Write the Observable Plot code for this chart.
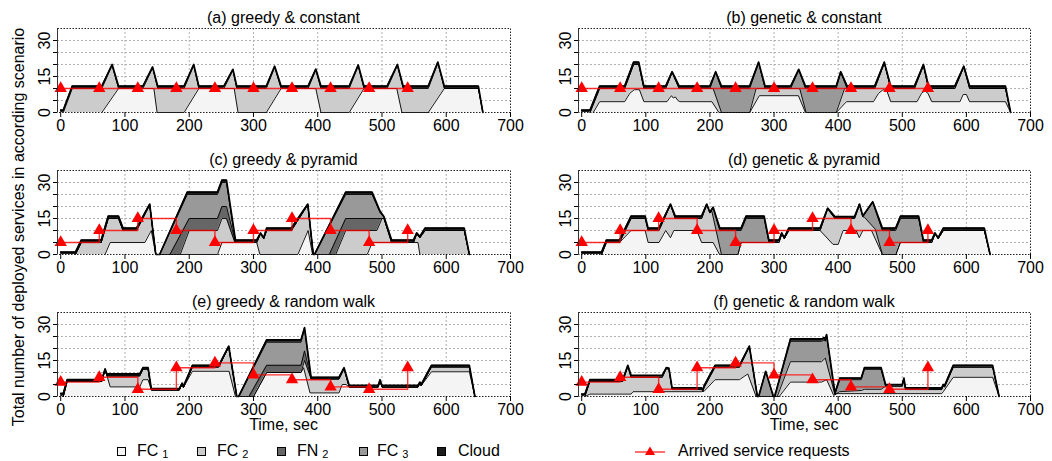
<!DOCTYPE html>
<html><head><meta charset="utf-8">
<script src="https://cdn.jsdelivr.net/npm/d3@7"></script>
<script src="https://cdn.jsdelivr.net/npm/@observablehq/plot@0.6"></script>
<style>
body{margin:0;background:#fff;font-family:"Liberation Sans",Arial,sans-serif;}
#root{position:relative;width:1052px;height:461px;overflow:hidden;background:#fff;}
.t{position:absolute;font-size:16px;line-height:18px;color:#000;white-space:nowrap;}
.pn{position:absolute;}
.sq{position:absolute;width:7px;height:7px;border:1px solid #000;}
sub{font-size:11px;line-height:11px;vertical-align:-2px;margin-left:4px;}
</style></head><body><div id="root"></div>
<script>
// arrival times of service requests and their sizes per scenario
const arrivalTimes = [0,60,120,180,240,300,360,420,480,540];
const reqConstant = [10,10,10,10,10,10,10,10,10,10];
const reqPyramid  = [5,10,15,10,5,10,15,10,5,10];
const reqRandom   = [6,8,3,12,14,9,7,4,3,12];

// each array: upper edge [time, services] of that layer in the stack (FC1 < FC2 < FN2 < FC3 < Cloud)
// (a) greedy & constant
const aCloud = [[0,1],[4,1],[18,11],[64,11],[80,20],[90,11],[128,11],[143,19],[151,11],[192,11],[207,20],[215,11],[254,11],[268,18],[274,11],[320,11],[333,19.3],[343,11],[385,11],[397,18.1],[405,11],[449,11],[463,19.8],[472,11],[508,11],[524,20],[533,11],[572,11],[587,21],[597,11],[650,11],[657,0]];
const aFC2 = [[4,0],[18,10],[64,10],[80,19.6],[90,10],[128,10],[143,18.6],[151,10],[192,10],[207,19.6],[215,10],[254,10],[268,17.6],[274,10],[320,10],[333,18.9],[343,10],[385,10],[397,17.7],[405,10],[449,10],[463,19.4],[472,10],[508,10],[524,19.6],[533,10],[572,10],[587,20.6],[597,10],[650,10],[657,0]];
const aFC1 = [[64,0],[90,10],[145,10],[150,0],[192,0],[215,10],[270,10],[276,0],[320,0],[343,10],[397,10],[405,0],[449,0],[472,10],[523,10],[531,0],[572,0],[597,10],[650,10],[657,0]];

// (b) genetic & constant
const bCloud = [[0,1],[13,1],[28,11],[67,11],[81,21],[89,21],[97,11],[131,11],[141,17],[152,11],[200,11],[209,17],[218,11],[262,11],[276,21],[286,11],[326,11],[338.5,18],[349,11],[397,11],[404,17],[414,11],[457,11],[472,21],[482,11],[519,11],[533,20],[541,11],[582,11],[596,19.3],[605,11],[661,11],[669,0]];
const bFC3 = [[13,0],[28,10],[67,10],[81,20],[89,20],[97,10],[131,10],[141,16.7],[152,10],[200,10],[209,16.7],[218,10],[262,10],[276,20.6],[286,10],[326,10],[338.5,17.7],[349,10],[397,10],[404,16.7],[414,10],[457,10],[472,20.6],[482,10],[519,10],[533,19.6],[541,10],[582,10],[596,19],[605,10],[661,10],[669,0]];
const bFC2 = [[13,0],[28,10],[67,10],[81,20],[89,20],[97,10],[131,10],[141,16.7],[152,10],[205,10],[218,0],[262,0],[272,10],[340,10],[350,0],[397,0],[410,10],[457,10],[472,20.6],[482,10],[519,10],[533,19.6],[541,10],[582,10],[596,19],[605,10],[661,10],[669,0]];
const bFC1 = [[18,0],[28,4.5],[67,4.5],[75,8],[82,9.5],[90,9.5],[97,4.5],[133,4.5],[137,6],[140,7],[143,6],[146,6.5],[150,5],[153,4.5],[203,4.5],[214,0],[262,0],[277,7],[338,7],[349,0],[397,0],[413,4.5],[455,4.5],[463,8],[470,9.5],[476,9],[482,4.5],[523,4.5],[530,8],[535,9],[540,8],[546,4.5],[590,4.5],[595,7.5],[600,7.5],[605,4.5],[661,4.5],[669,0]];

// (c) greedy & pyramid
const cCloud = [[0,1],[23,1],[32,6],[63,6],[74,16],[90,16],[97,11],[118,11],[138.5,21],[148,0],[154,0],[197,26],[244,26],[251,31],[258,31],[272,6],[305,6],[311,9],[316,7],[320.5,11],[359,11],[384.6,21],[393,0],[395,0],[443.6,26],[484.6,26],[497,18],[503,15.8],[515,6],[549,6],[554,9],[559,7.5],[567,11],[628,11],[636,0]];
const cFC3 = [[23,0],[32,5],[63,5],[74,15],[90,15],[97,10],[118,10],[138.5,20.7],[148,0],[154,0],[197,25],[244,25],[251,30],[258,30],[272,5],[305,5],[311,8.6],[316,6.6],[320.5,10],[359,10],[384.6,20.7],[393,0],[395,0],[443.6,25],[484.6,25],[497,17.5],[503,15.5],[515,5],[549,5],[554,8.6],[559,7],[567,10],[628,10],[636,0]];
const cFN2 = [[23,0],[32,5],[63,5],[74,15],[90,15],[97,10],[118,10],[138.5,20.7],[148,0],[170,0],[200,15],[244,15],[251,20],[258,20],[272,5],[305,5],[311,8.6],[316,6.6],[320.5,10],[359,10],[384.6,20.7],[393,0],[418,0],[443.6,15],[492,15],[503,15],[515,5],[549,5],[554,8.6],[559,7],[567,10],[628,10],[636,0]];
const cFC2 = [[23,0],[32,5],[63,5],[74,15],[90,15],[97,10],[118,10],[138.5,20.7],[148,0],[186,0],[200,10],[244,10],[251,15],[258,15],[271,5],[305,5],[311,8.6],[316,6.6],[320.5,10],[359,10],[384.6,20.7],[393,0],[428,0],[443.6,10],[492,10],[500,15],[503,15],[515,5],[549,5],[554,8.6],[559,7],[567,10],[628,10],[636,0]];
const cFC1 = [[69,0],[77,5],[131,5],[141,10],[148,0],[244,0],[251,5],[305,5],[310,0],[369,0],[385,10],[392,0],[477,0],[485,5],[556,5],[559,0]];

// (d) genetic & pyramid
const dCloud = [[0,1],[31,1],[38.5,6],[59,6],[77,16],[99,16],[103.6,11],[120.5,11],[138.5,21],[146,16],[187,16],[195,21],[200,17.6],[205,19.7],[215.4,11],[248.7,11],[256.4,16],[284.6,16],[292,6],[307.7,6],[312,9],[316,7],[323,11],[371.8,11],[383.6,19.3],[395,15.8],[425.6,15.8],[433.3,21],[438.5,16],[454,22],[469,11],[489.7,11],[497.4,16],[525.6,16],[533,6],[546,6],[551,9],[556,7],[564,11],[628,11],[637,0]];
const dFC3 = [[31,0],[38.5,5],[59,5],[77,15],[99,15],[103.6,10],[120.5,10],[138.5,20.7],[146,15],[187,15],[195,20.7],[200,17.3],[205,19.4],[215.4,10],[248.7,10],[256.4,15],[284.6,15],[292,5],[307.7,5],[312,8.6],[316,6.6],[323,10],[371.8,10],[383.6,19],[395,15],[425.6,15],[433.3,20.7],[438.5,15.7],[454,21.7],[469,10],[489.7,10],[497.4,15],[525.6,15],[533,5],[546,5],[551,8.6],[556,6.6],[564,10],[628,10],[637,0]];
const dFC2 = [[31,0],[38.5,5],[59,5],[77,15],[99,15],[103.6,10],[120.5,10],[138.5,20.7],[146,15],[187,15],[195,20.7],[200,17.3],[203,18],[218,0],[243.6,0],[248.7,5],[307.7,5],[312,8.6],[316,6.6],[323,10],[371.8,10],[383.6,19],[395,15],[425.6,15],[433.3,20.7],[438.5,15.7],[441,15.5],[458,10.5],[469,0],[490,0],[497,5],[546,5],[551,8.6],[556,6.6],[564,10],[628,10],[637,0]];
const dFC1 = [[31,0],[38.5,5],[59,5],[77,10],[99,10],[103.6,5],[120.5,5],[131,10],[138.5,7],[143.6,10],[179.5,10],[187,5],[205,5],[215,0],[243.6,0],[248.7,5],[307.7,5],[312,8.6],[316,6.6],[323,10],[371.8,10],[392,4.2],[400,4.2],[407.7,10],[428,10],[433,7],[438.5,10],[452,10],[469,0],[490,0],[497,5],[546,5],[551,8.6],[556,6.6],[564,10],[628,10],[637,0]];

// (e) greedy & random walk
const eCloud = [[0,1.3],[4,1.3],[10,7],[64,7],[69,11.5],[72,9.4],[123,9.4],[128,12],[136,12],[141,3.3],[184.6,3.3],[189,5.6],[191,4.2],[205,13],[246,13],[261.5,21],[274,0],[277,0],[320.5,23.6],[374,23.6],[379.5,28.7],[389.7,8],[433,8],[441,12],[449,4.6],[494,4.6],[497,7],[500,4.6],[556,4.6],[559,6],[561,5],[577,13],[636,13],[644.6,0]];
const eFC3 = [[4,0],[10,6.3],[64,6.3],[69,11.2],[72,8.6],[123,8.6],[128,11.4],[136,11.4],[141,2.7],[184.6,2.7],[189,5.3],[191,3.8],[205,12.3],[246,12.3],[261.5,20.7],[274,0],[277,0],[320.5,22.6],[374,22.6],[379.5,28.2],[389.7,7.3],[433,7.3],[441,11.6],[449,3.9],[494,3.9],[497,6.6],[500,3.9],[556,3.9],[559,5.6],[561,4.5],[577,12.3],[636,12.3],[644.6,0]];
const eFN2 = [[4,0],[10,6.3],[64,6.3],[69,11.2],[72,8.6],[123,8.6],[128,11.4],[136,11.4],[141,2.7],[184.6,2.7],[189,5.3],[191,3.8],[205,12.3],[246,12.3],[261.5,20.7],[274,0],[293,0],[320.5,13],[374,13],[379.5,19],[389.7,7.3],[433,7.3],[441,11.6],[449,3.9],[494,3.9],[497,6.6],[500,3.9],[556,3.9],[559,5.6],[561,4.5],[577,12.3],[636,12.3],[644.6,0]];
const eFC2 = [[4,0],[10,6.3],[64,6.3],[69,11.2],[72,8.6],[123,8.6],[128,11.4],[136,11.4],[141,2.7],[184.6,2.7],[189,5.3],[191,3.8],[205,12.3],[246,12.3],[261.5,20.7],[274,0],[300,0],[320.5,10],[374,10],[379.5,15],[389.7,7.3],[433,7.3],[441,11.6],[449,3.9],[494,3.9],[497,6.6],[500,3.9],[556,3.9],[559,5.6],[561,4.5],[577,12.3],[636,12.3],[644.6,0]];
const eFC1 = [[4,0],[10,6.3],[64,6.3],[69,11.2],[72,8.6],[77,4],[123,4],[128,7],[136,7],[141,2.7],[184.6,2.7],[189,5.3],[191,3.8],[205,10.5],[262,10.5],[272,0],[300,0],[320.5,10],[374,10],[378,12],[388,1.5],[433,1.5],[438,5],[444,5],[449,3.9],[494,3.9],[497,6.6],[500,3.9],[556,3.9],[559,5.6],[561,4.5],[577,10.3],[636,10.3],[644.6,0]];

// (f) genetic & random walk
const fCloud = [[0,1],[5,1],[12.8,7],[64,7],[72,13],[77,8.8],[125.6,8.8],[132,12],[136,11.8],[141,3.6],[187,3.6],[189,2.8],[191,4.5],[208,13],[246,13],[261.5,21],[274,0],[276,0],[287,10.5],[299,0],[301,0],[325.6,24],[374,24],[378,24.5],[380,24],[382,25.8],[395,1.5],[402.6,7.7],[436,7.7],[441,12],[467,12],[474,5],[500,5],[502.6,7.7],[505,3.6],[561.5,3.6],[564,5],[566,4.5],[579.5,13],[641,13],[651,0]];
const fFC3 = [[5,0],[12.8,6.3],[64,6.3],[72,12.6],[77,8],[125.6,8],[132,11.6],[136,11.4],[141,2.9],[187,2.9],[189,2.2],[191,3.8],[208,12.2],[246,12.2],[261.5,20.7],[274,0],[276,0],[287,10.3],[299,0],[301,0],[325.6,23],[374,23],[378,23.5],[380,23],[382,25.3],[395,0.8],[402.6,7],[436,7],[441,11.3],[467,11.3],[474,4.3],[500,4.3],[502.6,7.3],[505,2.9],[561.5,2.9],[564,4.5],[566,3.9],[579.5,12.2],[641,12.2],[651,0]];
const fFC2 = [[5,0],[12.8,6.3],[64,6.3],[72,12.6],[77,8],[125.6,8],[132,11.6],[136,11.4],[141,2.9],[187,2.9],[189,2.2],[191,3.8],[208,12.2],[246,12.2],[261.5,20.7],[274,0],[305,0],[325.6,14.5],[374,14.5],[380,16],[395,0.8],[402,2],[436,2.5],[441,3],[467,3],[474,4.3],[500,4.3],[502.6,7.3],[505,2.9],[561.5,2.9],[564,4.5],[566,3.9],[579.5,12.2],[641,12.2],[651,0]];
const fFC1 = [[5,0],[12.8,1],[77,1],[80,2],[187,2],[191,2.2],[208,7],[246,7],[259,9.4],[272,0],[308,0],[325.6,6],[374,6],[382,7],[393,0.5],[398,1.2],[561.5,1.2],[564,2],[579.5,8],[641,8],[651,0]];

const xTicks = [0,100,200,300,400,500,600,700];
const yTickLabels = [0,15,30];

const panels = [
  {title:"(a) greedy &amp; constant", req:reqConstant, col:0, row:0, layers:{Cloud:aCloud, FC2:aFC2, FC1:aFC1}},
  {title:"(b) genetic &amp; constant", req:reqConstant, col:1, row:0, layers:{Cloud:bCloud, FC3:bFC3, FC2:bFC2, FC1:bFC1}},
  {title:"(c) greedy &amp; pyramid", req:reqPyramid, col:0, row:1, layers:{Cloud:cCloud, FC3:cFC3, FN2:cFN2, FC2:cFC2, FC1:cFC1}},
  {title:"(d) genetic &amp; pyramid", req:reqPyramid, col:1, row:1, layers:{Cloud:dCloud, FC3:dFC3, FC2:dFC2, FC1:dFC1}},
  {title:"(e) greedy &amp; random walk", req:reqRandom, col:0, row:2, layers:{Cloud:eCloud, FC3:eFC3, FN2:eFN2, FC2:eFC2, FC1:eFC1}},
  {title:"(f) genetic &amp; random walk", req:reqRandom, col:1, row:2, layers:{Cloud:fCloud, FC3:fFC3, FC2:fFC2, FC1:fFC1}}
];

const COLORS = {Cloud:"#1c1c1c", FC3:"#999999", FN2:"#666666", FC2:"#cccccc", FC1:"#f4f4f4"};
const ORDER = ["Cloud","FC3","FN2","FC2","FC1"];
const root = document.getElementById("root");
const FONT = "Liberation Sans, Arial, sans-serif";
const rowTop = [28,170,312];

function addText(txt, left, top, extra) {
  const d = document.createElement("div");
  d.className = "t"; d.innerHTML = txt;
  d.style.left = left + "px"; d.style.top = top + "px";
  if (extra) Object.assign(d.style, extra);
  root.appendChild(d); return d;
}

for (const p of panels) {
  const marks = [
    Plot.gridX([100,200,300,400,500,600], {stroke:"#b0b0b0", strokeOpacity:1, strokeDasharray:"2,2"}),
    Plot.gridY([5,10,15,20,25,30], {stroke:"#b0b0b0", strokeOpacity:1, strokeDasharray:"2,2"})
  ];
  for (const k of ORDER) {
    const d = p.layers[k]; if (!d) continue;
    marks.push(Plot.areaY(d, {x: e => e[0], y1: 0, y2: e => e[1], fill: COLORS[k]}));
  }
  for (const k of ORDER) {
    const d = p.layers[k]; if (!d) continue;
    marks.push(Plot.line(d, {x: e => e[0], y: e => e[1], stroke:"#000", strokeWidth: k === "Cloud" ? 1.7 : 0.9}));
  }
  const reqData = arrivalTimes.map((t,i) => [t, p.req[i]]);
  marks.push(Plot.line(reqData, {x: e => e[0], y: e => e[1], curve:"step-after", stroke:"#ff0000", strokeWidth:1.4, strokeOpacity:0.8}));
  marks.push(Plot.dot(reqData, {x: e => e[0], y: e => e[1], symbol:"triangle", r:4.6, fill:"#ff0000"}));
  marks.push(Plot.frame({stroke:"#222", strokeDasharray:"1.5,1.5"}));
  marks.push(Plot.ruleX([-5], {stroke:"#333", strokeWidth:1}));
  marks.push(Plot.axisX({ticks: xTicks, tickSize:5, tickPadding:2, fontSize:16, tickFormat: d => String(d)}));
  marks.push(Plot.axisY({ticks:[0,5,10,15,20,25,30], tickSize:4, tickFormat: () => ""}));
  marks.push(Plot.text(yTickLabels, {x: -5, y: d => d, text: d => String(d), rotate:-90, dx:-13, fontSize:16, textAnchor:"middle"}));

  const svg = Plot.plot({
    width: 520, height: 119,
    marginTop: 5, marginBottom: 30, marginLeft: 57, marginRight: p.col === 0 ? 10 : 11,
    x: {domain: [-5, 700]},
    y: {domain: [0, 35]},
    style: {fontFamily: FONT, fontSize: "16px", background: "transparent", color: "#000", overflow: "visible"},
    marks
  });
  const wrap = document.createElement("div");
  wrap.className = "pn";
  wrap.style.left = (p.col === 0 ? 0 : 521) + "px";
  wrap.style.top = (rowTop[p.row] - 5) + "px";
  wrap.appendChild(svg);
  root.appendChild(wrap);

  const cx = p.col === 0 ? 283.5 : 804;
  addText(p.title, cx - 150, rowTop[p.row] - 19, {width:"300px", textAlign:"center"});
}

// x-axis titles
addText("Time, sec", 283.5 - 60, 416, {width:"120px", textAlign:"center"});
addText("Time, sec", 804 - 60, 416, {width:"120px", textAlign:"center"});
// y-axis title
addText("Total number of deployed services in according scenario", 19 - 230, 227 - 9,
  {width:"460px", textAlign:"center", transform:"rotate(-90deg)", transformOrigin:"50% 50%"});

// legend
const legendItems = [
  {key:"FC1", html:"FC<sub>1</sub>", sx:120.5, tx:137},
  {key:"FC2", html:"FC<sub>2</sub>", sx:200.5, tx:217},
  {key:"FN2", html:"FN<sub>2</sub>", sx:280.5, tx:297},
  {key:"FC3", html:"FC<sub>3</sub>", sx:362.5, tx:377},
  {key:"Cloud", html:"Cloud", sx:441, tx:458}
];
for (const it of legendItems) {
  const s = document.createElement("div");
  s.className = "sq";
  s.style.left = (it.sx - 4) + "px"; s.style.top = "447px";
  s.style.background = COLORS[it.key];
  root.appendChild(s);
  addText(it.html, it.tx, 441, {lineHeight:"19px"});
}
// request legend
const lg = document.createElementNS("http://www.w3.org/2000/svg","svg");
lg.setAttribute("width","40"); lg.setAttribute("height","16");
lg.style.position = "absolute"; lg.style.left = "632px"; lg.style.top = "443px";
lg.innerHTML = '<line x1="3" y1="9" x2="33" y2="9" stroke="#ff0000" stroke-width="1.4" stroke-opacity="0.8"/><path d="M18,3.5 L23,12 L13,12 Z" fill="#ff0000"/>';
root.appendChild(lg);
addText("Arrived service requests", 678, 441, {lineHeight:"19px"});
</script></body></html>
